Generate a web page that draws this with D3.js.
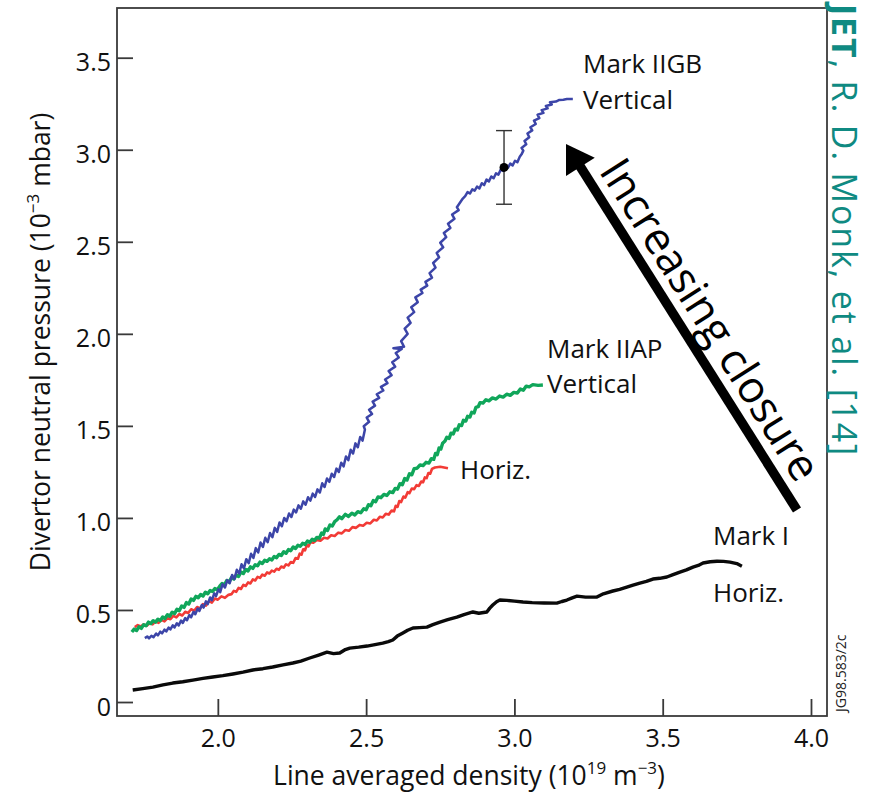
<!DOCTYPE html>
<html>
<head>
<meta charset="utf-8">
<script src="https://cdn.jsdelivr.net/npm/d3@7"></script>
<style>
  body { margin: 0; background: #fff; }
  svg text { font-family: "Open Sans", sans-serif; }
</style>
</head>
<body>
<div id="chart"></div>
<script>
// ---- data ----
// x: line averaged density (1e19 m^-3), y: divertor neutral pressure (1e-3 mbar)
const xTicks = [2.0, 2.5, 3.0, 3.5, 4.0];
const xTickLabels = ["2.0", "2.5", "3.0", "3.5", "4.0"];
const yTicks = [0, 0.5, 1.0, 1.5, 2.0, 2.5, 3.0, 3.5];
const yTickLabels = ["0", "0.5", "1.0", "1.5", "2.0", "2.5", "3.0", "3.5"];

// Mark IIGB vertical (blue) - noisy trace
const markIIGB = [[1.754,0.347],[1.762,0.356],[1.768,0.346],[1.776,0.360],[1.783,0.352],[1.792,0.372],[1.798,0.362],[1.806,0.382],[1.812,0.373],[1.820,0.393],[1.826,0.383],[1.834,0.404],[1.840,0.394],[1.848,0.416],[1.854,0.405],[1.862,0.428],[1.868,0.416],[1.876,0.442],[1.882,0.430],[1.890,0.456],[1.896,0.444],[1.904,0.472],[1.910,0.460],[1.918,0.490],[1.924,0.477],[1.932,0.508],[1.938,0.495],[1.946,0.527],[1.952,0.513],[1.960,0.547],[1.966,0.532],[1.974,0.568],[1.980,0.553],[1.988,0.590],[1.994,0.575],[2.002,0.612],[2.008,0.597],
  [2.016,0.640],[2.024,0.622],[2.032,0.662],[2.040,0.645],[2.048,0.690],[2.056,0.668],[2.064,0.718],[2.072,0.698],[2.080,0.748],[2.088,0.726],[2.096,0.776],[2.104,0.754],[2.112,0.805],[2.120,0.783],[2.128,0.836],[2.136,0.812],[2.144,0.866],[2.152,0.842],[2.160,0.892],[2.168,0.868],[2.176,0.918],[2.184,0.896],[2.192,0.946],[2.200,0.924],[2.208,0.975],[2.216,0.955],[2.224,1.000],[2.232,0.982],[2.240,1.024],[2.248,1.005],[2.256,1.045],
  [2.264,1.030],[2.272,1.068],[2.280,1.050],[2.288,1.090],[2.296,1.072],[2.304,1.112],[2.312,1.094],[2.320,1.132],[2.328,1.114],[2.336,1.155],[2.344,1.138],[2.352,1.188],[2.360,1.168],[2.368,1.214],[2.376,1.196],[2.384,1.240],[2.392,1.222],[2.400,1.268],[2.408,1.250],[2.416,1.300],[2.424,1.280],[2.432,1.334],[2.440,1.314],[2.448,1.370],[2.456,1.350],[2.464,1.405],[2.472,1.384],[2.480,1.440],[2.488,1.420],[2.496,1.480],[2.492,1.498],
  [2.510,1.522],[2.502,1.545],[2.520,1.565],[2.510,1.588],[2.530,1.610],[2.522,1.632],[2.544,1.652],[2.536,1.672],[2.558,1.692],[2.550,1.712],[2.572,1.732],[2.564,1.752],[2.586,1.775],[2.576,1.798],[2.598,1.822],[2.588,1.846],[2.610,1.872],[2.600,1.896],[2.620,1.918],[2.592,1.922],[2.628,1.930],[2.618,1.960],[2.640,2.000],[2.630,2.028],[2.650,2.060],[2.640,2.088],[2.662,2.118],[2.652,2.145],[2.674,2.172],[2.666,2.198],[2.690,2.222],[2.684,2.240],[2.706,2.262],[2.700,2.282],[2.722,2.305],[2.714,2.330],[2.734,2.360],[2.726,2.385],[2.746,2.415],[2.738,2.440],[2.760,2.470],[2.750,2.495],[2.770,2.525],[2.762,2.548],[2.784,2.575],[2.776,2.598],[2.798,2.625],[2.790,2.648],[2.812,2.672],[2.806,2.688],
  [2.826,2.735],[2.834,2.748],[2.842,2.770],[2.850,2.762],[2.858,2.785],[2.866,2.778],[2.874,2.800],[2.882,2.790],[2.890,2.818],[2.898,2.808],[2.906,2.838],[2.914,2.828],[2.922,2.855],[2.930,2.845],[2.938,2.872],[2.946,2.865],[2.954,2.892],[2.962,2.885],[2.970,2.910],[2.978,2.902],[2.986,2.925],[2.994,2.915],[3.002,2.940],[3.010,2.932],[3.018,2.962],[3.024,2.975],[3.030,2.995],[3.024,3.010],[3.040,3.030],[3.034,3.048],[3.050,3.068],[3.044,3.088],[3.060,3.105],[3.054,3.122],[3.072,3.140],[3.066,3.158],[3.084,3.172],[3.078,3.190],[3.098,3.200],[3.092,3.215],[3.112,3.225],[3.106,3.238],[3.126,3.246],[3.120,3.258],[3.140,3.262],[3.150,3.270],[3.165,3.272],[3.177,3.276],[3.197,3.276]];

// Mark IIAP vertical (green)
const markIIAPVert = [[1.710,0.380],[1.718,0.396],[1.726,0.388],[1.734,0.408],[1.742,0.400],[1.750,0.420],[1.758,0.414],[1.766,0.434],[1.774,0.426],[1.782,0.442],[1.790,0.434],[1.798,0.450],[1.806,0.442],[1.814,0.462],[1.822,0.454],[1.830,0.474],[1.838,0.466],[1.846,0.488],[1.854,0.480],[1.862,0.504],[1.870,0.496],[1.878,0.522],[1.886,0.514],[1.894,0.540],[1.902,0.532],[1.910,0.560],[1.918,0.552],[1.926,0.574],[1.934,0.566],[1.942,0.584],[1.950,0.576],[1.958,0.596],[1.966,0.588],[1.974,0.606],[1.982,0.600],[1.990,0.616],[1.998,0.610],[2.006,0.628],
  [2.014,0.644],[2.022,0.636],[2.030,0.660],[2.038,0.652],[2.046,0.676],[2.054,0.668],[2.062,0.690],[2.070,0.682],[2.078,0.706],[2.086,0.698],[2.094,0.720],[2.102,0.712],[2.110,0.734],[2.118,0.726],[2.126,0.746],[2.134,0.740],[2.142,0.760],[2.150,0.752],[2.158,0.770],[2.166,0.764],[2.174,0.778],[2.182,0.772],[2.190,0.790],[2.198,0.784],[2.206,0.802],[2.214,0.796],[2.222,0.816],[2.230,0.808],[2.238,0.828],[2.246,0.822],[2.254,0.842],[2.262,0.834],[2.270,0.852],[2.278,0.846],[2.286,0.862],[2.294,0.856],[2.302,0.874],[2.310,0.868],[2.318,0.884],[2.326,0.878],[2.334,0.894],[2.342,0.890],
  [2.350,0.918],[2.356,0.910],[2.362,0.940],[2.370,0.932],[2.378,0.962],[2.386,0.956],[2.394,0.980],[2.402,0.990],[2.410,1.006],[2.418,0.996],[2.430,1.020],[2.440,1.008],[2.452,1.026],[2.462,1.016],[2.472,1.034],[2.482,1.028],[2.492,1.050],[2.500,1.044],[2.508,1.072],[2.516,1.066],[2.524,1.094],[2.532,1.088],[2.540,1.114],[2.550,1.110],[2.560,1.128],[2.570,1.122],[2.580,1.142],[2.590,1.138],[2.598,1.160],[2.606,1.156],[2.614,1.186],[2.622,1.180],[2.630,1.214],[2.638,1.206],[2.646,1.240],[2.654,1.234],[2.662,1.268],[2.672,1.270],[2.682,1.288],[2.692,1.284],[2.702,1.302],[2.712,1.298],[2.720,1.322],[2.728,1.318],[2.734,1.350],[2.740,1.344],[2.746,1.380],[2.752,1.374],[2.758,1.406],
  [2.766,1.418],[2.772,1.438],[2.780,1.432],[2.786,1.460],[2.794,1.456],[2.800,1.482],[2.808,1.478],[2.814,1.506],[2.822,1.502],[2.828,1.530],[2.836,1.526],[2.842,1.552],[2.850,1.548],[2.856,1.574],[2.864,1.570],[2.870,1.600],[2.878,1.604],[2.884,1.626],[2.894,1.624],[2.904,1.642],[2.914,1.636],[2.926,1.652],[2.938,1.646],[2.950,1.662],[2.962,1.656],[2.974,1.672],[2.986,1.666],[2.998,1.682],[3.010,1.678],[3.020,1.700],[3.030,1.694],[3.040,1.716],[3.050,1.712],[3.062,1.724],[3.080,1.720],[3.096,1.722]];

// Mark IIAP horizontal (red)
const markIIAPHoriz = [[1.720,0.407],[1.730,0.418],[1.740,0.410],[1.750,0.422],[1.760,0.414],[1.770,0.428],[1.780,0.422],[1.790,0.438],[1.800,0.430],[1.810,0.446],[1.820,0.438],[1.830,0.456],[1.840,0.450],[1.850,0.468],[1.860,0.460],[1.870,0.478],[1.880,0.470],[1.890,0.490],[1.900,0.484],[1.910,0.504],[1.920,0.496],[1.930,0.516],[1.940,0.508],[1.950,0.532],[1.960,0.524],[1.970,0.548],[1.980,0.540],[1.990,0.562],[2.000,0.556],[2.012,0.574],[2.024,0.566],[2.036,0.582],[2.046,0.586],[2.054,0.604],[2.062,0.598],[2.070,0.620],[2.078,0.614],[2.086,0.636],[2.094,0.630],[2.102,0.650],[2.110,0.644],[2.118,0.666],[2.126,0.660],[2.134,0.680],[2.142,0.674],[2.150,0.692],[2.158,0.686],[2.166,0.704],[2.174,0.698],[2.182,0.714],[2.190,0.708],[2.198,0.724],[2.206,0.718],[2.214,0.736],[2.222,0.730],[2.230,0.748],[2.238,0.742],[2.246,0.760],[2.254,0.756],[2.262,0.782],[2.270,0.778],[2.276,0.806],[2.282,0.800],[2.288,0.830],[2.294,0.824],[2.300,0.852],[2.306,0.846],[2.312,0.868],[2.322,0.866],[2.334,0.880],[2.346,0.876],[2.358,0.892],[2.370,0.888],[2.382,0.906],[2.394,0.902],[2.406,0.920],[2.418,0.916],[2.430,0.934],[2.442,0.930],[2.454,0.950],[2.466,0.946],[2.478,0.962],[2.490,0.958],[2.502,0.974],[2.514,0.970],[2.526,0.990],[2.536,0.986],[2.546,1.006],[2.556,1.002],[2.566,1.022],[2.576,1.018],[2.586,1.040],[2.594,1.036],[2.600,1.066],[2.606,1.060],[2.612,1.092],[2.618,1.086],[2.626,1.116],[2.632,1.110],[2.640,1.140],[2.646,1.134],[2.654,1.160],[2.662,1.156],[2.670,1.178],[2.678,1.174],[2.686,1.198],[2.692,1.194],[2.698,1.220],[2.704,1.216],[2.710,1.244],[2.716,1.240],[2.722,1.266],[2.732,1.274],[2.750,1.278],[2.776,1.270]];

// Mark I horizontal (black)
const markI = [[1.713,0.065],[1.747,0.073],[1.781,0.081],[1.815,0.093],[1.848,0.103],[1.882,0.110],[1.916,0.119],[1.950,0.128],[1.983,0.136],[2.017,0.143],[2.051,0.152],[2.085,0.162],[2.118,0.174],[2.152,0.181],[2.185,0.190],[2.220,0.202],[2.253,0.212],[2.280,0.222],[2.310,0.239],[2.340,0.255],[2.368,0.271],[2.390,0.263],[2.411,0.266],[2.430,0.285],[2.445,0.293],[2.475,0.298],[2.503,0.304],[2.530,0.312],[2.556,0.320],[2.575,0.328],[2.590,0.337],[2.605,0.358],[2.624,0.375],[2.640,0.390],[2.658,0.402],[2.680,0.404],[2.705,0.407],[2.725,0.420],[2.749,0.434],[2.775,0.447],[2.806,0.461],[2.830,0.475],[2.860,0.489],[2.880,0.482],[2.907,0.489],[2.917,0.510],[2.927,0.527],[2.940,0.545],[2.951,0.554],[2.975,0.552],[3.000,0.548],[3.029,0.543],[3.060,0.540],[3.100,0.538],[3.143,0.537],[3.160,0.546],[3.177,0.554],[3.195,0.566],[3.211,0.575],[3.240,0.570],[3.278,0.570],[3.300,0.588],[3.332,0.603],[3.355,0.612],[3.379,0.624],[3.400,0.635],[3.423,0.646],[3.445,0.655],[3.467,0.668],[3.490,0.672],[3.514,0.679],[3.535,0.692],[3.558,0.706],[3.580,0.718],[3.602,0.733],[3.620,0.742],[3.636,0.755],[3.660,0.762],[3.683,0.765],[3.705,0.764],[3.727,0.760],[3.750,0.752],[3.767,0.738]];

// single point with error bar on the Mark IIGB curve
const errPoint = {x: 2.965, y: 2.904, err: 0.2};

function draw() {
    const width = 869, height = 794;
    const svg = d3.select("#chart").append("svg")
        .attr("width", width)
        .attr("height", height);

    const x = d3.scaleLinear().domain([1.66, 4.054]).range([117, 827]);
    const y = d3.scaleLinear().domain([-0.076, 3.77]).range([716, 8]);

    const axisColor = "#3a3a3a";

    // frame
    svg.append("rect")
        .attr("x", x.range()[0]).attr("y", y.range()[1])
        .attr("width", x.range()[1] - x.range()[0])
        .attr("height", y.range()[0] - y.range()[1])
        .attr("fill", "none")
        .attr("stroke", axisColor)
        .attr("stroke-width", 1.8);

    // Y axis, ticks pointing in
    const gy = svg.append("g")
        .attr("transform", "translate(" + x.range()[0] + ",0)")
        .call(d3.axisLeft(y).tickValues(yTicks)
            .tickFormat((d, i) => yTickLabels[i])
            .tickSizeInner(-16).tickSizeOuter(0).tickPadding(6));
    gy.select(".domain").remove();
    gy.selectAll("line").attr("stroke", axisColor).attr("stroke-width", 1.8);
    gy.selectAll("text").attr("font-size", 25).attr("dy", "0.52em").attr("fill", "#111");

    // X axis
    const gx = svg.append("g")
        .attr("transform", "translate(0," + y.range()[0] + ")")
        .call(d3.axisBottom(x).tickValues(xTicks)
            .tickFormat((d, i) => xTickLabels[i])
            .tickSizeInner(-17).tickSizeOuter(0).tickPadding(13));
    gx.select(".domain").remove();
    gx.selectAll("line").attr("stroke", axisColor).attr("stroke-width", 1.8);
    gx.selectAll("text").attr("font-size", 25).attr("fill", "#111");

    // axis titles
    const yl = svg.append("text")
        .attr("transform", "translate(50,342)rotate(-90)")
        .attr("text-anchor", "middle")
        .attr("font-size", 26.5)
        .attr("fill", "#111");
    yl.append("tspan").text("Divertor neutral pressure (10");
    yl.append("tspan").attr("dy", -11).attr("font-size", 17).text("\u22123");
    yl.append("tspan").attr("dy", 11).text(" mbar)");

    const xl = svg.append("text")
        .attr("x", 469).attr("y", 785)
        .attr("text-anchor", "middle")
        .attr("font-size", 26.5)
        .attr("fill", "#111");
    xl.append("tspan").text("Line averaged density (10");
    xl.append("tspan").attr("dy", -11).attr("font-size", 17).text("19");
    xl.append("tspan").attr("dy", 11).text(" m");
    xl.append("tspan").attr("dy", -11).attr("font-size", 17).text("\u22123");
    xl.append("tspan").attr("dy", 11).text(")");

    // curves
    const line = d3.line().x(d => x(d[0])).y(d => y(d[1]));
    const series = [
        {data: markI, color: "#0a0a0a", w: 3.4},
        {data: markIIAPHoriz, color: "#f23b36", w: 2.6},
        {data: markIIAPVert, color: "#10a65a", w: 3.4},
        {data: markIIGB, color: "#3c45a8", w: 2.5}
    ];
    series.forEach(s => {
        svg.append("path")
            .datum(s.data)
            .attr("fill", "none")
            .attr("stroke", s.color)
            .attr("stroke-width", s.w)
            .attr("stroke-linejoin", "round")
            .attr("d", line);
    });

    // error bar
    const eb = svg.append("g").attr("stroke", "#333").attr("stroke-width", 1.4);
    eb.append("line")
        .attr("x1", x(errPoint.x)).attr("x2", x(errPoint.x))
        .attr("y1", y(errPoint.y + errPoint.err)).attr("y2", y(errPoint.y - errPoint.err));
    [errPoint.y + errPoint.err, errPoint.y - errPoint.err].forEach(v => {
        eb.append("line")
            .attr("x1", x(errPoint.x) - 8).attr("x2", x(errPoint.x) + 8)
            .attr("y1", y(v)).attr("y2", y(v));
    });
    svg.append("circle")
        .attr("cx", x(errPoint.x)).attr("cy", y(errPoint.y))
        .attr("r", 4.5).attr("fill", "#000");

    // curve labels
    const labels = [
        {t: "Mark IIGB", x: 583, y: 73},
        {t: "Vertical", x: 583, y: 109},
        {t: "Mark IIAP", x: 547, y: 358},
        {t: "Vertical", x: 547, y: 393},
        {t: "Horiz.", x: 460, y: 479},
        {t: "Mark I", x: 713, y: 545},
        {t: "Horiz.", x: 713, y: 602}
    ];
    svg.selectAll(".lab").data(labels).enter().append("text")
        .attr("class", "lab")
        .attr("x", d => d.x).attr("y", d => d.y)
        .attr("font-size", 26)
        .attr("fill", "#111")
        .text(d => d.t);

    // "Increasing closure" arrow
    const tail = [797, 510], tip = [566, 144];
    const dx = tip[0] - tail[0], dy = tip[1] - tail[1];
    const len = Math.sqrt(dx * dx + dy * dy);
    const u = [dx / len, dy / len];          // points toward the tip
    const up = [-u[1], u[0]];                // up-right side of the shaft
    const headL = 27, headW = 17;
    const base = [tip[0] - u[0] * headL, tip[1] - u[1] * headL];
    svg.append("line")
        .attr("x1", tail[0]).attr("y1", tail[1])
        .attr("x2", base[0] + u[0] * 2).attr("y2", base[1] + u[1] * 2)
        .attr("stroke", "#000").attr("stroke-width", 9.5);
    svg.append("polygon")
        .attr("points", [tip,
            [base[0] + up[0] * headW, base[1] + up[1] * headW],
            [base[0] - up[0] * headW, base[1] - up[1] * headW]].map(p => p.join(",")).join(" "))
        .attr("fill", "#000");
    const ang = Math.atan2(-dy, -dx) * 180 / Math.PI;
    const tAlong = 40, tOff = 13;
    const tp = [tip[0] - u[0] * tAlong + up[0] * tOff, tip[1] - u[1] * tAlong + up[1] * tOff];
    svg.append("text")
        .attr("transform", "translate(" + tp[0] + "," + tp[1] + ")rotate(" + ang + ")")
        .attr("font-size", 44)
        .attr("fill", "#000")
        .text("Increasing closure");

    // citation on the right
    const cite = svg.append("text")
        .attr("transform", "translate(832,4)rotate(90)")
        .attr("font-size", 34)
        .attr("letter-spacing", 1.8)
        .attr("fill", "#0f8a82");
    cite.append("tspan").attr("font-weight", "bold").text("JET");
    cite.append("tspan").text(", R. D. Monk, et al. [14]");

    svg.append("text")
        .attr("transform", "translate(846,712)rotate(-90)")
        .attr("font-size", 14)
        .attr("fill", "#222")
        .text("JG98.583/2c");
}
draw();
</script>
</body>
</html>
